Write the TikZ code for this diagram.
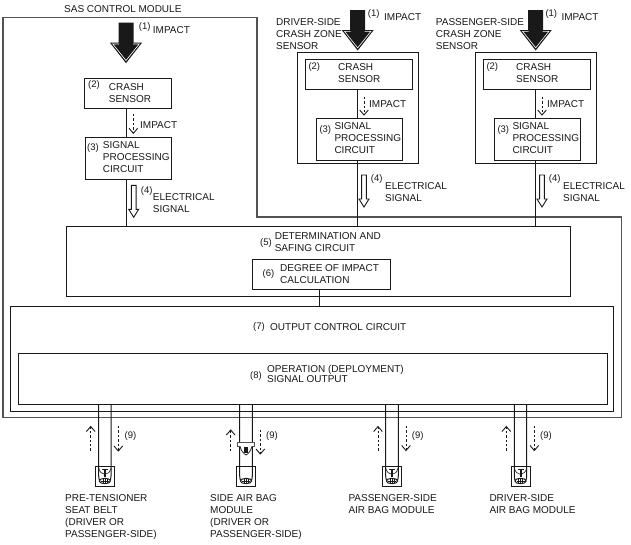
\documentclass[tikz,border=0pt]{standalone}
\usepackage{fontspec}
\usetikzlibrary{fit,calc}
\setmainfont{Liberation Sans}
\definecolor{ink}{gray}{0.1}
\tikzset{
  box/.style={draw=ink,line width=1pt,inner sep=0pt,fill=white},
  wire/.style={draw=ink,line width=1pt},
  lbl/.style={anchor=north west,yshift=8pt,inner sep=0pt,align=left,text=ink,
    font=\fontsize{10}{12}\selectfont,execute at begin node={\rule{0pt}{8pt}}},
  num/.style={anchor=west,inner sep=0pt,text=ink,font=\fontsize{9.5}{11}\selectfont},
  dash arrow/.style={draw=ink,line width=0.75pt,dash pattern=on 2.4pt off 2pt},
  tipline/.style={draw=ink,line width=0.9pt},
}
% dashed arrow from y1 to y2 at x
\newcommand\dasharr[3]{%
  \draw[dash arrow] (#1,#2) -- (#1,#3);
  \pgfmathsetmacro\dd{#3>#2?-5:5}
  \draw[tipline] ({#1-4.3},{#3+\dd}) -- (#1,#3) -- ({#1+4.3},{#3+\dd});}
% heavy impact arrow: centre x, top y
\newcommand\heavy[2]{%
  \fill[ink] ({#1-7.5},#2) -- ({#1+7.5},#2) -- ({#1+7.5},{#2+20}) -- ({#1+16},{#2+20}) -- (#1,{#2+40.5}) -- ({#1-16},{#2+20}) -- ({#1-7.5},{#2+20}) -- cycle;
  \draw[white,line width=0.6pt] ({#1+7},{#2+21.3}) -- ({#1+13.2},{#2+21.3}) -- (#1,{#2+37.8}) -- ({#1-13.2},{#2+21.3}) -- ({#1-7},{#2+21.3});}
% hollow signal arrow: centre x, top y
\newcommand\hollow[2]{%
  \draw[ink,line width=0.9pt,fill=white,line join=miter] ({#1-2.4},#2) -- ({#1+2.4},#2) -- ({#1+2.4},{#2+24}) -- ({#1+5},{#2+24}) -- (#1,{#2+32}) -- ({#1-5},{#2+24}) -- ({#1-2.4},{#2+24}) -- cycle;}
% squib oval inside a connector box: centre x, centre y
\newcommand\squib[2]{%
  \draw[ink,line width=1pt,fill=white] (#1,#2) ellipse [x radius=5.6,y radius=2.7];
  \draw[ink,line width=0.6pt] ({#1-2},{#2-2}) -- ({#1-2},{#2+2.4}) (#1,{#2-2}) -- (#1,{#2+2.4}) ({#1+2},{#2-2}) -- ({#1+2},{#2+2.4}) ({#1-4},{#2+0.6}) -- ({#1+4},{#2+0.6});}
\begin{document}
\begin{tikzpicture}[x=1pt,y=-1pt]
\useasboundingbox (0,0) rectangle (631,544);
\fill[white] (0,0) rectangle (631,544);

% SAS control module outline
\draw[draw=ink!75,line width=1.2pt] (3,17.3) -- (257,17.3) -- (257,217) -- (621.7,217) -- (621.7,417.3) -- (3,417.3) -- cycle;
\node[lbl] (sastitle) at (64,12) {SAS CONTROL MODULE};

% Central circuit boxes
\node[box,fit={(66.5,226)(570,296)}] (det) {};
\node[box,fit={(252,259)(390,289)}] (deg) {};
\node[box,fit={(10.5,306.7)(613.7,411)}] (out) {};
\node[box,fit={(18.5,353)(607.6,404.7)}] (op) {};

% SAS internal sensor
\node[box,fit={(84.7,78)(171,108.3)}] (cs1) {};
\node[box,fit={(85.3,137.3)(171,179.3)}] (sp1) {};

% Driver side sensor
\node[box,fit={(297.3,52.7)(418.3,163.3)}] (dz) {};
\node[box,fit={(305,59)(412.3,89)}] (cs2) {};
\node[box,fit={(316.7,118.3)(402.3,160)}] (sp2) {};

% Passenger side sensor
\node[box,fit={(475.3,52.7)(596.3,163.3)}] (pz) {};
\node[box,fit={(483,59)(590.3,89)}] (cs3) {};
\node[box,fit={(494.7,118.3)(580.3,160)}] (sp3) {};

% Vertical connectors
\draw[wire] (cs1.south -| 126.3,0) -- (sp1.north -| 126.3,0);
\draw[wire] (sp1.south -| 126.3,0) -- (det.north -| 126.3,0);
\draw[wire] (cs2.south -| 357.7,0) -- (sp2.north -| 357.7,0);
\draw[wire] (sp2.south -| 357.7,0) -- (det.north -| 357.7,0);
\draw[wire] (cs3.south -| 535.7,0) -- (sp3.north -| 535.7,0);
\draw[wire] (sp3.south -| 535.7,0) -- (det.north -| 535.7,0);
\draw[wire] (deg.south -| 319.5,0) -- (out.north -| 319.5,0);

% Impact arrows
\heavy{126}{22.7}
\heavy{357.7}{10}
\heavy{535.7}{10}

% Dashed impact arrows in sensors
\dasharr{133.3}{114}{133.3}
\dasharr{364}{96.7}{115}
\dasharr{542}{96.7}{115}

% Electrical signal arrows
\hollow{133.7}{185.3}
\hollow{364}{175}
\hollow{542}{175}

% Output connectors
\node[box,fit={(95.7,466.3)(114.7,486.7)}] (c1) {};
\node[box,fit={(236.3,466.3)(255.7,486.7)}] (c2) {};
\node[box,fit={(382.3,466.3)(401.7,486.7)}] (c3) {};
\node[box,fit={(511,466.3)(530.3,486.7)}] (c4) {};

\foreach \a/\b in {98.7/111,239.7/252.3,385.7/398.3,514.3/526.7}{
  \draw[wire] (op.south -| \a,0) -- (\a,476) .. controls (\a,479) and (\a+0.5,480) .. (\a+1.5,480.5);
  \draw[wire] (op.south -| \b,0) -- (\b,476) .. controls (\b,479) and (\b-0.5,480) .. (\b-1.5,480.5);
  \pgfmathsetmacro\cx{(\a+\b)/2}
  \squib{\cx}{481}
}
% plugs inside connector boxes
\foreach \a/\c in {98.7/104.9,385.7/392,514.3/520.5}{
  \draw[ink,line width=0.6pt] (\a,468) .. controls (\a+1,472) and (\a+3,474) .. (\c,474.5);
  \draw[ink,line width=0.6pt] (\a+12.4,468) .. controls (\a+11.4,472) and (\a+9.4,474) .. (\c,474.5);
  \fill[ink] (\c-1,469) rectangle (\c+1,476.5);
  \fill[ink] (\c-3,468.5) rectangle (\c+3,470.3);
}
% side air bag intermediate connector
\fill[white] (237,442) rectangle (255,446.5);
\draw[ink!75,line width=0.8pt,fill=white] (237.5,442.7) rectangle (254.7,446.2);
\draw[ink,line width=0.7pt,fill=white] (240,446.2) .. controls (241,451) and (244,454) .. (246,455) .. controls (248,454) and (251,451) .. (252,446.2);
\fill[ink] (244,447) rectangle (248,453);

% Output dashed arrows
\dasharr{90.7}{450.7}{426.5}
\dasharr{118.3}{426}{451}
\dasharr{230.7}{451}{430}
\dasharr{260.3}{430}{454}
\dasharr{378}{450.7}{426.5}
\dasharr{406}{426}{450.5}
\dasharr{506.3}{450.7}{426.5}
\dasharr{534.3}{426}{450.5}

% Labels: SAS internal
\node[num] (n1a) at (138.7,27) {(1)};
\node[lbl] (t1a) at (152.7,33.3) {IMPACT};
\node[num] (n2a) at (88,85) {(2)};
\node[lbl] (t2a) at (108.7,91) {CRASH\\SENSOR};
\node[lbl] (t2i) at (140,128) {IMPACT};
\node[num] (n3a) at (87,148) {(3)};
\node[lbl] (t3a) at (102.7,149.3) {SIGNAL\\PROCESSING\\CIRCUIT};
\node[num] (n4a) at (140.7,190.7) {(4)};
\node[lbl] (t4a) at (152.7,201.3) {ELECTRICAL\\SIGNAL};

% Labels: driver side
\node[lbl] (tdz) at (276,26) {DRIVER-SIDE\\CRASH ZONE\\SENSOR};
\node[num] (n1b) at (367.7,14) {(1)};
\node[lbl] (t1b) at (384,20.7) {IMPACT};
\node[num] (n2b) at (308.3,66.7) {(2)};
\node[lbl] (t2b) at (338,71.7) {CRASH\\SENSOR};
\node[lbl] (t2j) at (369,107.3) {IMPACT};
\node[num] (n3b) at (319.3,130) {(3)};
\node[lbl] (t3b) at (334.3,130.7) {SIGNAL\\PROCESSING\\CIRCUIT};
\node[num] (n4b) at (370.7,179) {(4)};
\node[lbl] (t4b) at (385,190.7) {ELECTRICAL\\SIGNAL};

% Labels: passenger side
\node[lbl] (tpz) at (435.7,26) {PASSENGER-SIDE\\CRASH ZONE\\SENSOR};
\node[num] (n1c) at (545.3,14) {(1)};
\node[lbl] (t1c) at (561.3,20.7) {IMPACT};
\node[num] (n2c) at (486.3,66.7) {(2)};
\node[lbl] (t2c) at (516,71.7) {CRASH\\SENSOR};
\node[lbl] (t2k) at (547,107.3) {IMPACT};
\node[num] (n3c) at (497.3,130) {(3)};
\node[lbl] (t3c) at (512.3,130.7) {SIGNAL\\PROCESSING\\CIRCUIT};
\node[num] (n4c) at (548.7,179) {(4)};
\node[lbl] (t4c) at (563,190.7) {ELECTRICAL\\SIGNAL};

% Labels: central
\node[num] (n5) at (260,243) {(5)};
\node[lbl] (t5) at (274.6,240) {DETERMINATION AND\\SAFING CIRCUIT};
\node[num] (n6) at (262.5,274) {(6)};
\node[lbl] (t6) at (280,272.7) {DEGREE OF IMPACT\\[-0.7pt]CALCULATION};
\node[num] (n7) at (253,327) {(7)};
\node[lbl] (t7) at (270,330.7) {OUTPUT CONTROL CIRCUIT};
\node[num] (n8) at (250,376) {(8)};
\node[lbl] (t8) at (267,372.7) {OPERATION (DEPLOYMENT)\\[-1.6pt]SIGNAL OUTPUT};

% Labels: outputs
\node[num] (n9a) at (124.5,435.7) {(9)};
\node[num] (n9b) at (266,435.7) {(9)};
\node[num] (n9c) at (411.7,435.7) {(9)};
\node[num] (n9d) at (540,435.7) {(9)};
\node[lbl] (o1) at (65,502.7) {PRE-TENSIONER\\SEAT BELT\\(DRIVER OR\\PASSENGER-SIDE)};
\node[lbl] (o2) at (210,502) {SIDE AIR BAG\\MODULE\\(DRIVER OR\\PASSENGER-SIDE)};
\node[lbl] (o3) at (348.3,502.7) {PASSENGER-SIDE\\AIR BAG MODULE};
\node[lbl] (o4) at (489.3,502.7) {DRIVER-SIDE\\AIR BAG MODULE};
\end{tikzpicture}
\end{document}
